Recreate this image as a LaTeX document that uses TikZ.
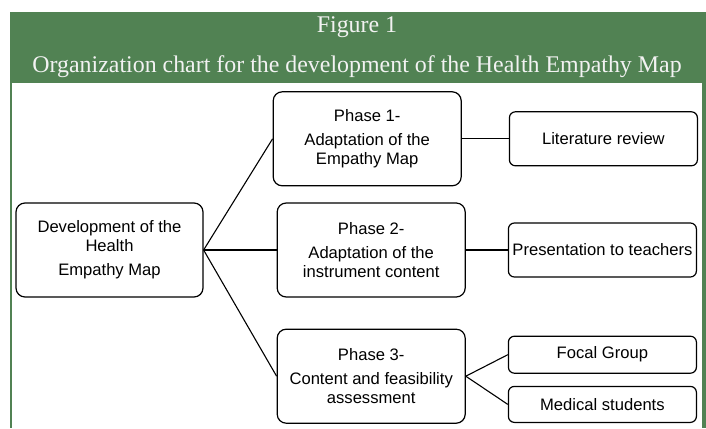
\documentclass[tikz,border=0pt]{standalone}
\usepackage{fontspec}
\setmainfont{Liberation Serif}
\setsansfont{Liberation Sans}
\usepackage{tikz}
\usetikzlibrary{positioning}

\definecolor{headgreen}{RGB}{81,130,83}

\tikzset{
	bigbox/.style={draw, line width=1.2pt, rounded corners=9pt, align=center,
		minimum width=188pt, minimum height=94pt, inner sep=2pt,
		font=\fontsize{16.6}{19}\sffamily},
	smallbox/.style={draw, line width=1.2pt, rounded corners=6pt, align=center,
		minimum width=188pt, minimum height=54pt, inner sep=2pt,
		font=\fontsize{16.6}{19}\sffamily},
	link/.style={line width=1.1pt},
	headtext/.style={text=white!95!black, anchor=base, font=\fontsize{23.9}{28}\selectfont}
}

\begin{document}
\begin{tikzpicture}[x=1pt,y=1pt]
		\useasboundingbox (0,0) rectangle (706,-428);
		%%%%% Frame
		\fill[headgreen] (10,-12) rectangle (706,-83);
		\fill[headgreen] (10,-83) rectangle (12,-428);
		\fill[headgreen] (702,-83) rectangle (706,-428);
		\node[headtext] (Fig) at (357,-33) {Figure 1};
		\node[headtext] (Title) at (357,-72) {Organization chart for the development of the Health Empathy Map};
		%%%%% Root
		\node[bigbox, minimum width=187pt] (Dev) at (109.5,-250) {Development of the\\ Health\\[5pt] Empathy Map};
		%%%%% Phases
		\node[bigbox, right=73pt of Dev] (Ph2) {Phase 2-\\[5pt] Adaptation of the\\ instrument content};
		\node[bigbox, above=16pt of Ph2, xshift=-4pt] (Ph1) {Phase 1-\\[5pt] Adaptation of the\\ Empathy Map};
		\node[bigbox, below=31pt of Ph2] (Ph3) {Phase 3-\\[5pt] Content and feasibility\\ assessment};
		%%%%% Steps
		\node[smallbox, right=47pt of Ph1] (Lit) {Literature review};
		\node[smallbox, right=42pt of Ph2] (Pres) {Presentation to teachers};
		\node[smallbox, right=42pt of Ph3, yshift=21.5pt, minimum height=37pt] (Focal) {Focal Group};
		\node[smallbox, below=12pt of Focal, minimum height=36pt] (Med) {Medical students};
		%%%%% Links
		\draw[link] (Dev.east) -- (Ph1.west);
		\draw[link] (Dev.east) -- (Ph2.west);
		\draw[link] (Dev.east) -- (Ph3.west);
		\draw[link] (Ph1.east) -- (Lit.west);
		\draw[link] (Ph2.east) -- (Pres.west);
		\draw[link] (Ph3.east) -- (Focal.west);
		\draw[link] (Ph3.east) -- (Med.west);
\end{tikzpicture}
\end{document}
